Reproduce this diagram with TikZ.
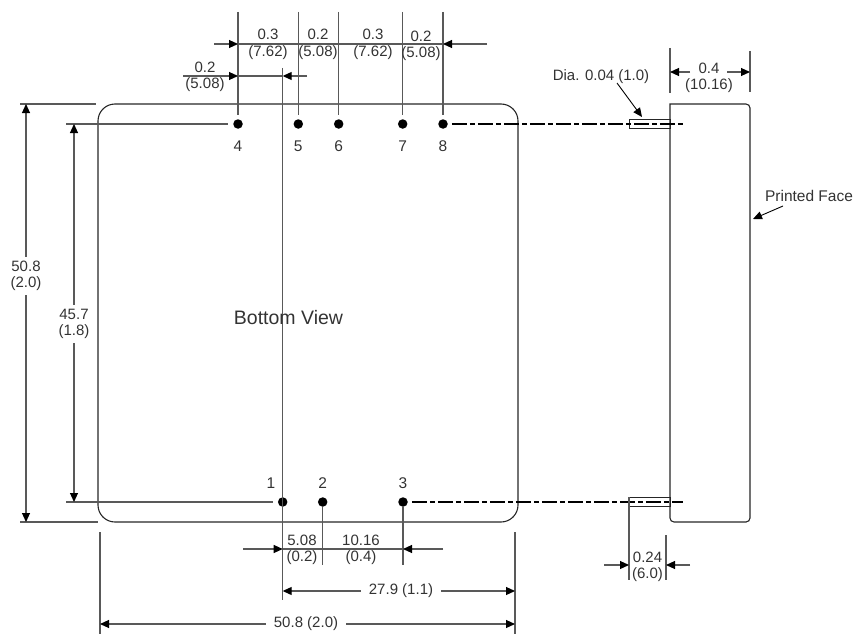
\documentclass[tikz,border=0pt]{standalone}
\usepackage{fontspec}
\usepackage{tikz}
\setmainfont{Liberation Sans}
\usetikzlibrary{arrows.meta}

\begin{document}
\begin{tikzpicture}[
		x=1pt, y=-1pt,
		every node/.style={font=\fontsize{15}{17}\selectfont, text=black!80, inner sep=0pt},
		body/.style={draw=black!85, line width=1.1pt},
		dimline/.style={draw=black!65, line width=1.1pt},
		tip/.style={-{Triangle[length=9pt, width=8pt, black]}},
		centre/.style={draw=black, line width=1.4pt, dash pattern=on 15pt off 3pt on 5pt off 3pt},
		pin/.style={circle, fill=black, minimum size=9.5pt, inner sep=0pt},
		pinlabel/.style={font=\fontsize{15.5}{17}\selectfont},
		twolines/.style={align=center, font=\fontsize{15}{16.5}\selectfont}
	]
  \useasboundingbox (0,0) rectangle (854,634);
  % pins
  \node (p4) [pin] at (238,124) {};
  \node (p5) [pin] at (298.3,124) {};
  \node (p6) [pin] at (338.7,124) {};
  \node (p7) [pin] at (402.7,124) {};
  \node (p8) [pin] at (443,124) {};
  \node (p1) [pin] at (282.7,502) {};
  \node (p2) [pin] at (322.7,502) {};
  \node (p3) [pin] at (403,502) {};
  \node (l4) [pinlabel] at (238,146) {4};
  \node (l5) [pinlabel] at (298.3,146) {5};
  \node (l6) [pinlabel] at (338.7,146) {6};
  \node (l7) [pinlabel] at (402.7,146) {7};
  \node (l8) [pinlabel] at (443,146) {8};
  \node (l1) [pinlabel] at (271,483) {1};
  \node (l2) [pinlabel] at (322.7,483) {2};
  \node (l3) [pinlabel] at (403,483) {3};
  % outlines
  \draw [body, rounded corners=17pt] (98,104) rectangle (518,522);
  \draw [body] (670,104) [rounded corners=4pt] -- (750,104) -- (750,522) -- (670,522) [sharp corners] -- cycle;
  \node (stubA) [draw=black!85, line width=0.9pt, minimum width=41pt, minimum height=9pt] at (649.5,123.5) {};
  \node (stubB) [draw=black!85, line width=0.9pt, minimum width=41pt, minimum height=9pt] at (649.5,501.5) {};
  % centre lines
  \coordinate (endA) at (683,124);
  \coordinate (endB) at (683,502);
  \draw [centre] (p8.east) ++(4,0) -- (endA);
  \draw [centre] (p3.east) ++(4,0) -- (endB);
  % extension lines
  \coordinate (t4) at (238,12);
  \coordinate (t5) at (298.3,12);
  \coordinate (t6) at (338.7,12);
  \coordinate (t7) at (402.7,12);
  \coordinate (t8) at (443,12);
  \draw [dimline, shorten >=4pt] (t4) -- (p4);
  \draw [dimline, shorten >=4pt] (t5) -- (p5);
  \draw [dimline, shorten >=4pt] (t6) -- (p6);
  \draw [dimline, shorten >=4pt] (t7) -- (p7);
  \draw [dimline, shorten >=4pt] (t8) -- (p8);
  \coordinate (c1) at (282.7,68);
  \coordinate (c2) at (282.7,600);
  \draw [dimline] (c1) -- (c2);
  \coordinate (b2) at (322.7,565);
  \coordinate (b3) at (403,565);
  \draw [dimline] (p2) -- (b2);
  \draw [dimline] (p3) -- (b3);
  \coordinate (la) at (20,104);
  \coordinate (lb) at (96,104);
  \coordinate (lc) at (20,522);
  \coordinate (ld) at (98,522);
  \coordinate (le) at (66,124);
  \coordinate (lf) at (66,502);
  \draw [dimline] (la) -- (lb);
  \draw [dimline] (lc) -- (ld);
  \draw [dimline, shorten >=5pt] (le) -- (p4);
  \draw [dimline, shorten >=5pt] (lf) -- (p1);
  \coordinate (ba) at (100,532);
  \coordinate (bb) at (100,634);
  \coordinate (bc) at (515,532);
  \coordinate (bd) at (515,634);
  \draw [dimline] (ba) -- (bb);
  \draw [dimline] (bc) -- (bd);
  % top dimensions
  \coordinate (ta) at (214,44);
  \coordinate (tb) at (238,44);
  \coordinate (tc) at (487,44);
  \coordinate (td) at (443,44);
  \draw [dimline] (tb) -- (td);
  \draw [dimline, tip] (ta) -- (tb);
  \draw [dimline, tip] (tc) -- (td);
  \node (d1) [twolines] at (268,44.5) {0.3\\(7.62)};
  \node (d2) [twolines] at (318,44.5) {0.2\\(5.08)};
  \node (d3) [twolines] at (373,44.5) {0.3\\(7.62)};
  \node (d4) [twolines] at (421,46) {0.2\\(5.08)};
  \coordinate (sa) at (183,76);
  \coordinate (sb) at (238,76);
  \coordinate (sc) at (307,76);
  \coordinate (sd) at (282.7,76);
  \draw [dimline] (sb) -- (sd);
  \draw [dimline, tip] (sa) -- (sb);
  \draw [dimline, tip] (sc) -- (sd);
  \node (d5) [twolines] at (205,77) {0.2\\(5.08)};
  % left dimensions
  \node (h1) [twolines] at (26,276) {50.8\\(2.0)};
  \node (h2) [twolines] at (74,324) {45.7\\(1.8)};
  \coordinate (v1) at (26,104);
  \coordinate (v2) at (26,522);
  \coordinate (v3) at (74,124);
  \coordinate (v4) at (74,502);
  \draw [dimline, tip] (h1.north) ++(0,-4) -- (v1);
  \draw [dimline, tip] (h1.south) ++(0,4) -- (v2);
  \draw [dimline, tip] (h2.north) ++(0,-4) -- (v3);
  \draw [dimline, tip] (h2.south) ++(0,4) -- (v4);
  % bottom dimensions
  \coordinate (pa) at (243,549);
  \coordinate (pb) at (282.7,549);
  \coordinate (pc) at (443,549);
  \coordinate (pd) at (403,549);
  \draw [dimline] (pb) -- (pd);
  \draw [dimline, tip] (pa) -- (pb);
  \draw [dimline, tip] (pc) -- (pd);
  \node (e1) [twolines] at (302,550) {5.08\\(0.2)};
  \node (e2) [twolines] at (361,550) {10.16\\(0.4)};
  \node (e3) at (401,591) {27.9 (1.1)};
  \node (e4) at (306,624) {50.8 (2.0)};
  \coordinate (qa) at (282.7,591);
  \coordinate (qb) at (515,591);
  \coordinate (qc) at (100,624);
  \coordinate (qd) at (515,624);
  \draw [dimline, tip] (e3.west) ++(-8,0) -- (qa);
  \draw [dimline, tip] (e3.east) ++(8,0) -- (qb);
  \draw [dimline, tip] (e4.west) ++(-8,0) -- (qc);
  \draw [dimline, tip] (e4.east) ++(8,0) -- (qd);
  % side view dimensions
  \coordinate (wa) at (670,48);
  \coordinate (wb) at (670,93);
  \coordinate (wc) at (750,51);
  \coordinate (wd) at (750,92);
  \draw [dimline] (wa) -- (wb);
  \draw [dimline] (wc) -- (wd);
  \node (f1) [twolines] at (709,78) {0.4\\(10.16)};
  \coordinate (wl) at (670,72);
  \coordinate (wr) at (750,72);
  \coordinate (wm) at (690,72);
  \coordinate (wn) at (727,72);
  \draw [dimline, tip] (wm) -- (wl);
  \draw [dimline, tip] (wn) -- (wr);
  \coordinate (xa) at (629,497);
  \coordinate (xb) at (629,580);
  \coordinate (xc) at (666,535);
  \coordinate (xd) at (666,580);
  \draw [dimline] (xa) -- (xb);
  \draw [dimline] (xc) -- (xd);
  \coordinate (ya) at (604,565);
  \coordinate (yb) at (629,565);
  \coordinate (yc) at (690,565);
  \coordinate (yd) at (666,565);
  \draw [dimline, tip] (ya) -- (yb);
  \draw [dimline, tip] (yc) -- (yd);
  \node (f2) [twolines] at (647.5,567) {0.24\\(6.0)};
  % free labels
  \node (view) [font=\fontsize{19.5}{21}\selectfont] at (288.5,318) {Bottom View};
  \node (dia) at (601,77) {Dia. 0.04 (1.0)};
  \coordinate (diatip) at (642,117);
  \coordinate (diafrom) at (617,83);
  \draw [draw=black, line width=0.9pt, tip] (diafrom) -- (diatip);
  \node (face) [font=\fontsize{15.5}{17}\selectfont] at (809,196) {Printed Face};
  \coordinate (facetip) at (753,219);
  \coordinate (facefrom) at (783,206);
  \draw [draw=black, line width=0.9pt, tip] (facefrom) -- (facetip);
\end{tikzpicture}
\end{document}
